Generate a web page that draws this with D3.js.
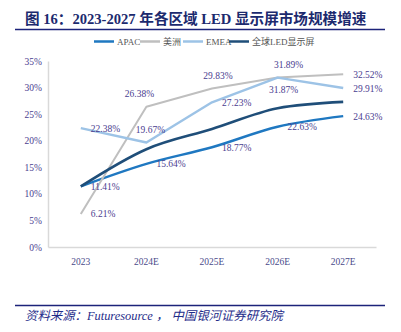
<!DOCTYPE html>
<html><head><meta charset="utf-8">
<script src="https://cdn.jsdelivr.net/npm/d3@7"></script>
<style>
html,body{margin:0;padding:0;background:#fff;}
svg{display:block;}
</style></head>
<body>
<svg id="c" width="401" height="332"></svg>
<script>
const categories = ["2023","2024E","2025E","2026E","2027E"];
const seriesNames = ["APAC","美洲","EMEA","全球LED显示屏"];
const apac   = [11.41, 15.64, 18.77, 22.63, 24.63];
const americas = [6.21, 26.38, 29.83, 31.89, 32.52];
const emea   = [22.38, 19.67, 27.23, 31.87, 29.91];
const global = [11.4, 18.4, 22.2, 26.1, 27.3];
const yTicks = [0,5,10,15,20,25,30,35];

const colors = ["#1f78c1","#bfbfbf","#9dc3e6","#1f4e79"];
const widths = [2.4,2,2.4,2.6];
const curves = [d3.curveMonotoneX, d3.curveLinear, d3.curveLinear, d3.curveMonotoneX];
const showLabels = [true,true,true,false];
// label placement per series/point: r = right, a = above, b = below
const placement = [
  ["r","r","r","r","r"],
  ["r","a","a","a","r"],
  ["r","a","r","b","r"],
  null
];
const aboveShift = [0,-7,6,11]; // horizontal shift of "above" labels per category
const values = [apac, americas, emea, global];

const svg = d3.select("#c");
const x = d3.scaleBand().domain(categories).range([48,376]).padding(0);
const y = d3.scaleLinear().domain([0,35]).range([247,61]);
const cx = d => x(d) + x.bandwidth()/2;

const serif = "'Liberation Serif','Times New Roman',serif";
const labelColor = "#4a3d8f";

// title
svg.append("text").attr("x",25).attr("y",24)
  .attr("font-family","'Liberation Serif','Noto Sans CJK SC',serif")
  .attr("font-weight","bold").attr("font-size",14.6).attr("fill","#1c2a6e")
  .text("图 16：2023-2027 年各区域 LED 显示屏市场规模增速");
svg.append("line").attr("x1",15).attr("x2",385).attr("y1",29.5).attr("y2",29.5)
  .attr("stroke","#1c237a").attr("stroke-width",1.5);

// legend
const legendX = [94,140,183,229];
seriesNames.forEach((n,i)=>{
  svg.append("line").attr("x1",legendX[i]).attr("x2",legendX[i]+20)
    .attr("y1",41.5).attr("y2",41.5).attr("stroke",colors[i]).attr("stroke-width",2.5);
  svg.append("text").attr("x",legendX[i]+23).attr("y",45)
    .attr("font-family","'Liberation Serif','Noto Sans CJK SC',serif")
    .attr("font-size",9).attr("fill","#555").text(n);
});

// axes
const yAxis = d3.axisLeft(y).tickValues(yTicks).tickSize(0).tickPadding(6).tickFormat(d=>d+"%");
const gy = svg.append("g").attr("transform","translate(48,0)").call(yAxis);
gy.select(".domain").attr("stroke","#d9d9d9").attr("stroke-width",1.5);
gy.selectAll("text").attr("font-family",serif).attr("font-size",9.5).attr("fill",labelColor);

const xAxis = d3.axisBottom(x).tickSize(0).tickPadding(11);
const gx = svg.append("g").attr("transform","translate(0,247)").call(xAxis);
gx.select(".domain").attr("stroke","#d9d9d9").attr("stroke-width",1.5);
gx.selectAll("text").attr("font-family",serif).attr("font-size",9.5).attr("fill","#4a4a8a");

// lines
values.forEach((vals,i)=>{
  const line = d3.line().x((d,j)=>cx(categories[j])).y(d=>y(d)).curve(curves[i]);
  svg.append("path").datum(vals).attr("d",line).attr("fill","none")
    .attr("stroke",colors[i]).attr("stroke-width",widths[i]).attr("stroke-linejoin","round");
});

// labels
values.forEach((vals,i)=>{
  if(!showLabels[i]) return;
  vals.forEach((v,j)=>{
    const p = placement[i][j];
    const px = cx(categories[j]), py = y(v);
    const t = svg.append("text").attr("font-family",serif).attr("font-size",9.5)
      .attr("fill",labelColor).text(v.toFixed(2)+"%");
    if(p==="r"){ t.attr("x",px+10).attr("y",py+3.5); }
    else if(p==="a"){
      const extra = (i===2 && j===1) ? 11 : 0;
      t.attr("x",px+aboveShift[j]+extra).attr("y",py-9.5).attr("text-anchor","middle");
    }
    else { t.attr("x",px+6).attr("y",py+15).attr("text-anchor","middle"); }
  });
});

// footer
svg.append("line").attr("x1",15).attr("x2",385).attr("y1",305.5).attr("y2",305.5)
  .attr("stroke","#1c237a").attr("stroke-width",1.5);
svg.append("text").attr("x",25).attr("y",320)
  .attr("font-family","'Liberation Serif','Noto Sans CJK SC',serif")
  .attr("font-style","italic").attr("font-size",12.4).attr("fill","#1f2d8a")
  .text("资料来源：Futuresource ， 中国银河证券研究院");
</script>
</body></html>
